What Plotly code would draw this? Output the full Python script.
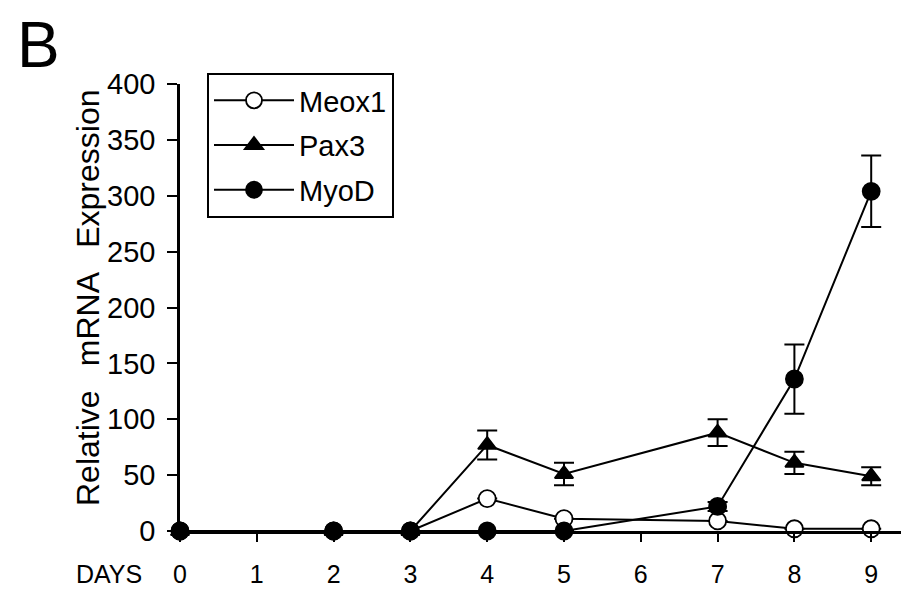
import plotly.graph_objects as go

days = [0, 2, 3, 4, 5, 7, 8, 9]
meox1 = [0, 0, 0, 29, 11, 9, 2, 2]
meox1_err = [0, 0, 0, 0, 0, 0, 0, 0]
pax3 = [0, 0, 0, 77, 51, 88, 61, 49]
pax3_err = [0, 0, 0, 13, 10, 12, 10, 8]
myod = [0, 0, 0, 0, 0, 22, 136, 304]
myod_err = [0, 0, 0, 0, 0, 4, 31, 32]
x_ticks = [0, 1, 2, 3, 4, 5, 6, 7, 8, 9]
y_ticks = [0, 50, 100, 150, 200, 250, 300, 350, 400]

FONT = "Liberation Sans, Arial, sans-serif"

# plot area in pixels (from the reference)
L, R, T, B = 172, 905, 76, 523
W, H = R - L, B - T

def px(x):
    return (x - L) / W

def py(y):
    return (B - y) / H

fig = go.Figure()

def add(name, y, err, symbol, fill):
    fig.add_trace(go.Scatter(
        x=days, y=y, name=name, mode="lines+markers",
        legendgroup=name,
        line=dict(color="black", width=2),
        marker=dict(symbol=symbol, size=17 if "circle" in symbol else 16,
                    color=fill, line=dict(color="black", width=1.8)),
        error_y=dict(type="data", array=err, visible=True, color="black",
                     thickness=2, width=10),
        cliponaxis=False,
    ))

add("Meox1", meox1, meox1_err, "circle", "white")
add("Pax3", pax3, pax3_err, "triangle-up", "black")
add("MyoD", myod, myod_err, "circle", "black")

fig.update_layout(
    template="none",
    width=909, height=591,
    margin=dict(l=L, r=909 - R, t=T, b=591 - B, pad=0),
    paper_bgcolor="white", plot_bgcolor="white",
    font=dict(family=FONT, color="black", size=26),
    showlegend=True,
    legend=dict(x=px(199), y=py(65), xanchor="left", yanchor="top",
                bordercolor="black", borderwidth=2, bgcolor="white",
                font=dict(size=29, family=FONT, color="black"),
                tracegroupgap=4, itemwidth=80),
    xaxis=dict(range=[0, (R - L) / 76.8], tickmode="array", tickvals=x_ticks,
               ticktext=[str(v) for v in x_ticks], automargin=False,
               showline=True, linecolor="black", linewidth=2.5,
               ticks="outside", ticklen=8, tickwidth=2, tickcolor="black",
               showgrid=False, zeroline=False,
               tickfont=dict(size=25, family=FONT, color="black"),
               ticklabelstandoff=11),
    yaxis=dict(range=[0, 400], tickmode="array", tickvals=y_ticks,
               automargin=False,
               showline=True, linecolor="black", linewidth=2.5,
               ticks="outside", ticklen=10, tickwidth=2, tickcolor="black",
               showgrid=False, zeroline=False,
               tickfont=dict(size=29, family=FONT, color="black"),
               ticklabelstandoff=6),
    annotations=[
        dict(text="B", x=px(30), y=py(37), xref="paper", yref="paper",
             xanchor="center", yanchor="middle",
             showarrow=False, font=dict(size=64, family=FONT, color="black")),
        dict(text="Relative\u00a0\u00a0\u2009mRNA\u00a0\u00a0\u2009Expression",
             x=px(80), y=py(290), xref="paper", yref="paper",
             xanchor="center", yanchor="middle", textangle=-90,
             showarrow=False, font=dict(size=32, family=FONT, color="black")),
        dict(text="DAYS", x=px(101), y=py(566), xref="paper", yref="paper",
             xanchor="center", yanchor="middle",
             showarrow=False, font=dict(size=25, family=FONT, color="black")),
    ],
)

fig.write_html("out.html")
